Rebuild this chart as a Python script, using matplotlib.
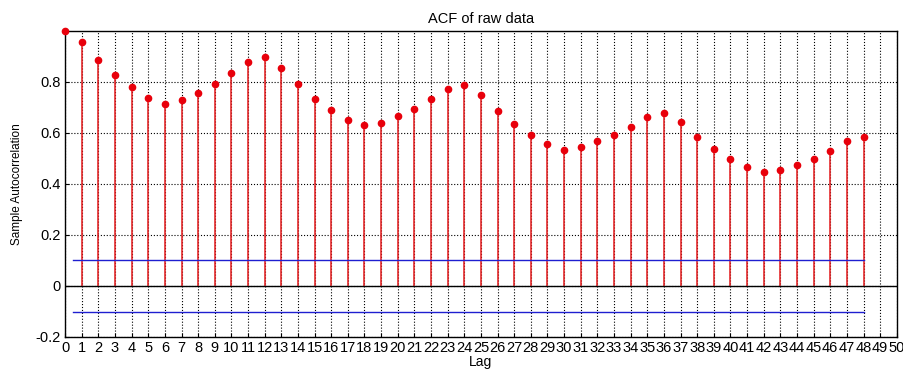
import matplotlib.pyplot as plt
import numpy as np

plt.rcParams['font.family'] = ['Liberation Sans', 'DejaVu Sans']

# Sample autocorrelation values for lags 0..48
lags = np.arange(0, 49)
acf = [1.000, 0.956, 0.886, 0.826, 0.780, 0.738, 0.714, 0.729, 0.756, 0.792,
       0.834, 0.878, 0.897, 0.855, 0.791, 0.732, 0.690, 0.651, 0.630, 0.640,
       0.665, 0.694, 0.732, 0.774, 0.788, 0.749, 0.686, 0.634, 0.592, 0.557,
       0.532, 0.546, 0.567, 0.592, 0.622, 0.661, 0.678, 0.644, 0.584, 0.536,
       0.499, 0.465, 0.447, 0.454, 0.475, 0.499, 0.531, 0.570, 0.584]

# confidence bounds
bound = 0.103
bound_x = [0.5, 48]

xticks = np.arange(0, 51)
yticks = [-0.2, 0, 0.2, 0.4, 0.6, 0.8]

fig = plt.figure(figsize=(9.04, 3.69), dpi=100)
ax = fig.add_axes([0.072, 0.087, 0.920, 0.829])

ax.grid(True, color='black', linestyle=':', linewidth=0.8)
ax.set_axisbelow(True)

ml, sl, bl = ax.stem(lags, acf, linefmt='-', markerfmt='o', basefmt='-')
plt.setp(sl, color='#e41a1c', linewidth=1.1)
plt.setp(ml, color='#e8000b', markersize=4.5, clip_on=False, zorder=5)
plt.setp(bl, color='black', linewidth=1.0)
bl.set_xdata([0, 50])

ax.plot(bound_x, [bound, bound], color='#1f1fd0', linewidth=1.0)
ax.plot(bound_x, [-bound, -bound], color='#1f1fd0', linewidth=1.0)

ax.set_xlim(0, 50)
ax.set_ylim(-0.2, 1.0)
ax.set_xticks(xticks)
ax.set_xticklabels([str(t) for t in xticks])
ax.set_yticks(yticks)
ax.set_yticklabels(['-0.2', '0', '0.2', '0.4', '0.6', '0.8'])
ax.tick_params(direction='in', length=3, labelsize=10.5, pad=3)

for s in ax.spines.values():
    s.set_color('black')
    s.set_linewidth(1.0)

ax.set_title('ACF of raw data', fontsize=10.5, pad=6)
ax.set_xlabel('Lag', fontsize=10, labelpad=0)
ax.set_ylabel('Sample Autocorrelation', fontsize=8.5, labelpad=9)

plt.savefig('out.png', dpi=100)
